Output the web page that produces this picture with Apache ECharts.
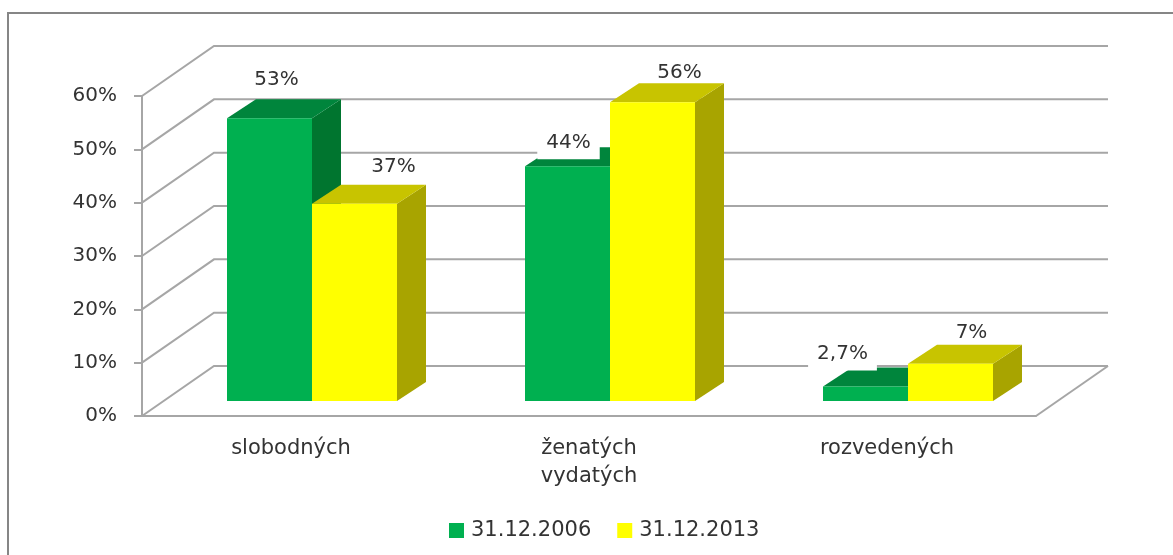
<!DOCTYPE html>
<html>
<head>
<meta charset="utf-8">
<style>
html, body { margin: 0; padding: 0; background: #fff; }
#chart { width: 1173px; height: 555px; }
</style>
<script src="https://cdn.jsdelivr.net/npm/echarts@6/dist/echarts.min.js"></script>
</head>
<body>
<div id="chart"></div>
<script>
var categories = ['slobodných', 'ženatých\nvydatých', 'rozvedených'];
var yTicks = [0, 10, 20, 30, 40, 50, 60];
var values2006 = [53, 44, 2.7];
var values2013 = [37, 56, 7];
var labels2006 = ['53%', '44%', '2,7%'];
var labels2013 = ['37%', '56%', '7%'];

// hand placed labels in the original, offset from the top middle of the front face
var labelShift2006 = [[7, -39], [1, -24], [-23, -33]];
var labelShift2013 = [[39, -37], [27, -30], [21, -31]];
var labelBox2006 = [false, true, true];

var fontName = '"DejaVu Sans", sans-serif';
var textColor = '#333333';
var lineColor = '#a6a6a6';
var wallX = 72, wallY = -50;     // back wall offset
var depthX = 29, depthY = -19;   // bar depth
var liftY = 15;                  // bars stand in the middle of the floor
var barWidth = 85;

function render_wall(params, api) {
    var sys = params.coordSys;
    var p = api.coord([0, api.value(1)]);
    var y = p[1];
    var pts = [[sys.x, y], [sys.x + wallX, y + wallY], [sys.x + sys.width + wallX, y + wallY]];
    var children = [{
        type: 'polyline',
        shape: { points: pts },
        style: { stroke: lineColor, lineWidth: 2, fill: null }
    }];
    if (api.value(1) === 0) {
        children.push({
            type: 'line',
            shape: { x1: sys.x + sys.width, y1: y, x2: sys.x + sys.width + wallX, y2: y + wallY },
            style: { stroke: lineColor, lineWidth: 2 }
        });
    }
    return { type: 'group', children: children };
}

function make_bar(colors, startX, labels, shifts, boxes) {
    return function (params, api) {
        var i = api.value(0);
        var top = api.coord([i, api.value(1)]);
        var y0 = api.coord([i, 0])[1] - liftY;
        var y1 = top[1] - liftY;
        var x0 = top[0] + startX;
        var x1 = x0 + barWidth;
        var box = boxes && boxes[i];
        var text = {
            type: 'text',
            z2: 10,
            style: {
                text: labels[i],
                x: (x0 + x1) / 2 + shifts[i][0],
                y: y1 + shifts[i][1],
                align: 'center',
                verticalAlign: 'middle',
                font: '20px ' + fontName,
                fill: textColor
            }
        };
        if (box) {
            text.style.backgroundColor = '#ffffff';
            text.style.padding = [7, 9, 7, 9];
        }
        return {
            type: 'group',
            children: [{
                type: 'polygon',
                shape: { points: [[x1, y0], [x1 + depthX, y0 + depthY], [x1 + depthX, y1 + depthY], [x1, y1]] },
                style: { fill: colors[2] }
            }, {
                type: 'polygon',
                shape: { points: [[x0, y1], [x0 + depthX, y1 + depthY], [x1 + depthX, y1 + depthY], [x1, y1]] },
                style: { fill: colors[1] }
            }, {
                type: 'rect',
                shape: { x: x0, y: y1, width: barWidth, height: y0 - y1 },
                style: { fill: colors[0] }
            }, text]
        };
    };
}

function to_points(values) {
    return values.map(function (v, i) { return [i, v]; });
}

var option = {
    backgroundColor: '#ffffff',
    animation: false,
    textStyle: { fontFamily: fontName },
    graphic: [{
        type: 'polyline',
        shape: { points: [[8, 555], [8, 13], [1173, 13]] },
        style: { fill: null, stroke: '#868686', lineWidth: 2 },
        silent: true
    }],
    legend: {
        data: ['31.12.2006', '31.12.2013'],
        left: 449,
        top: 520,
        padding: 0,
        itemWidth: 15,
        itemHeight: 15,
        itemGap: 26,
        icon: 'rect',
        textStyle: { color: textColor, fontSize: 21, fontFamily: fontName, padding: [0, 0, 0, 2] }
    },
    grid: { left: 142, top: 96, width: 894, height: 320 },
    xAxis: {
        type: 'category',
        data: categories,
        axisLine: { lineStyle: { color: lineColor, width: 2 } },
        axisTick: { length: 8, lineStyle: { color: lineColor, width: 2 } },
        axisLabel: { color: textColor, fontSize: 21, fontFamily: fontName, margin: 19, lineHeight: 28 }
    },
    yAxis: {
        type: 'value',
        min: 0,
        max: 60,
        interval: 10,
        axisLine: { show: true, lineStyle: { color: lineColor, width: 2 } },
        axisTick: { show: true, length: 8, lineStyle: { color: lineColor, width: 2 } },
        splitLine: { show: false },
        axisLabel: { color: textColor, fontSize: 20, fontFamily: fontName, margin: 25, formatter: '{value}%' }
    },
    series: [{
        type: 'custom',
        name: 'wall',
        clip: false,
        silent: true,
        z: 1,
        renderItem: render_wall,
        encode: { x: 0, y: 1 },
        data: yTicks.map(function (v) { return [0, v]; })
    }, {
        type: 'custom',
        name: '31.12.2006',
        clip: false,
        z: 2,
        itemStyle: { color: '#00b050' },
        renderItem: make_bar(['#00b050', '#00853c', '#00752f'], -64, labels2006, labelShift2006, labelBox2006),
        encode: { x: 0, y: 1 },
        data: to_points(values2006)
    }, {
        type: 'custom',
        name: '31.12.2013',
        clip: false,
        z: 3,
        itemStyle: { color: '#ffff00' },
        renderItem: make_bar(['#ffff00', '#c8c400', '#a8a400'], 21, labels2013, labelShift2013),
        encode: { x: 0, y: 1 },
        data: to_points(values2013)
    }]
};

var myChart = echarts.init(document.getElementById('chart'));
myChart.setOption(option);
</script>
</body>
</html>
